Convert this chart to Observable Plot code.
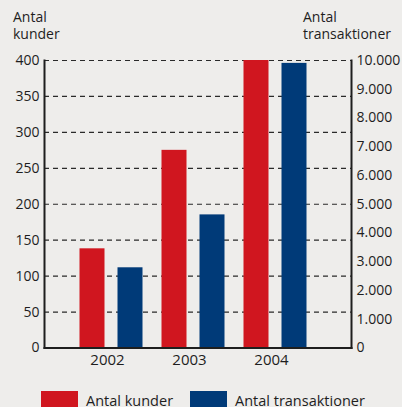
<!DOCTYPE html>
<html><head><meta charset="utf-8">
<script src="https://cdn.jsdelivr.net/npm/d3@7"></script>
<script src="https://cdn.jsdelivr.net/npm/@observablehq/plot@0.6"></script>
<style>
html,body{margin:0;padding:0;background:#eeedeb;overflow:hidden}
#wrap{position:relative;width:402px;height:407px;overflow:hidden;font-family:"Open Sans",sans-serif;color:#1e1e1e}
.t{position:absolute;font-size:14px;line-height:16px;height:16px;white-space:nowrap}
.lg{position:absolute;top:391px;height:17px;display:flex;align-items:flex-start;font-size:14.5px;line-height:16px}
.sw{width:37px;height:17px;margin-right:8px}
#chart{position:absolute;left:0;top:0}
</style></head>
<body><div id="wrap">
<div id="chart"></div>
<div class="t" style="left:13px;top:9px">Antal</div>
<div class="t" style="left:13px;top:26px">kunder</div>
<div class="t" style="left:303px;top:9px">Antal</div>
<div class="t" style="left:303px;top:26px">transaktioner</div>
<div class="lg" style="left:41px"><div class="sw" style="background:#d0161f"></div><span style="margin-top:2px">Antal kunder</span></div>
<div class="lg" style="left:190px"><div class="sw" style="background:#003a78"></div><span style="margin-top:2px">Antal transaktioner</span></div>
</div>
<script>
const years = ["2002", "2003", "2004"];
const kunder = [138, 275, 400];
const transaktioner = [2790, 4630, 9900];
const leftTicks = [0, 50, 100, 150, 200, 250, 300, 350, 400];
const leftTickLabels = ["0", "50", "100", "150", "200", "250", "300", "350", "400"];
const rightTickLabels = ["0", "1.000", "2.000", "3.000", "4.000", "5.000", "6.000", "7.000", "8.000", "9.000", "10.000"];
const rightMax = 10000, leftMax = 400;

const data = years.map((y, i) => ({year: y, kunder: kunder[i], trans: transaktioner[i] * leftMax / rightMax}));
const rightTicks = rightTickLabels.map((_, i) => i * leftMax / (rightTickLabels.length - 1));

const chart = Plot.plot({
  width: 402,
  height: 375,
  marginTop: 60,
  marginBottom: 27.5,
  marginLeft: 44,
  marginRight: 51,
  style: {fontFamily: "'Open Sans', sans-serif", background: "transparent", color: "#1e1e1e"},
  x: {domain: years, padding: 0, insetLeft: 25.5, insetRight: 35.5},
  y: {domain: [0, leftMax]},
  marks: [
    Plot.gridY(leftTicks.filter(d => d > 0), {stroke: "#2a2a2a", strokeOpacity: 1, strokeWidth: 1.2, strokeDasharray: "5,4"}),
    Plot.barY(data, {x: "year", y: "kunder", fill: "#d0161f", insetLeft: 9.5, insetRight: 47.5}),
    Plot.barY(data, {x: "year", y: "trans", fill: "#003a78", insetLeft: 47.5, insetRight: 9.5}),
    Plot.frame({anchor: "left", stroke: "#1e1e1e", strokeWidth: 2}),
    Plot.frame({anchor: "right", stroke: "#1e1e1e", strokeWidth: 2}),
    Plot.frame({anchor: "bottom", stroke: "#1e1e1e", strokeWidth: 2}),
    Plot.axisY(leftTicks, {anchor: "left", tickSize: 0, tickPadding: 5, fontSize: 14, label: null,
      tickFormat: d => leftTickLabels[leftTicks.indexOf(d)]}),
    Plot.axisY(rightTicks, {anchor: "right", tickSize: 0, tickPadding: 5, fontSize: 14, label: null,
      tickFormat: d => rightTickLabels[rightTicks.indexOf(d)]}),
    Plot.axisX({tickSize: 0, tickPadding: 6, fontSize: 15, dx: -4, label: null})
  ]
});
document.getElementById("chart").appendChild(chart);
</script>
</body></html>
